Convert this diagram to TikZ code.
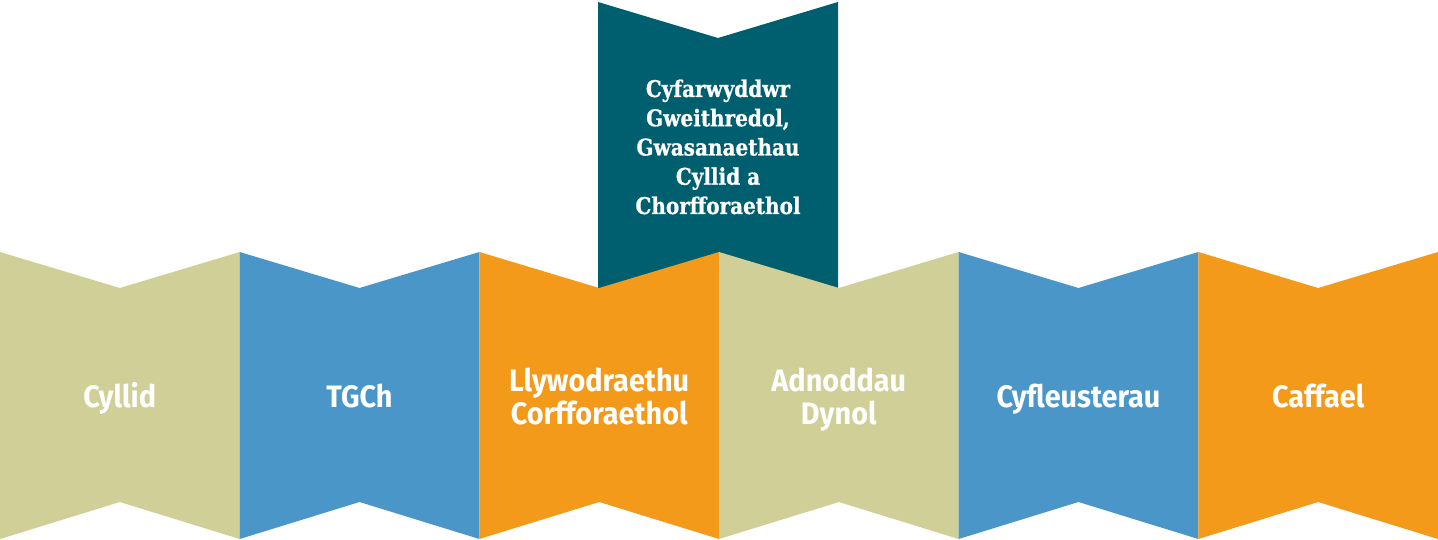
\documentclass[tikz,border=0pt]{standalone}
\usepackage{fontspec}
\setmainfont{Fira Sans}
\newfontfamily\botfont[FakeStretch=0.93]{Fira Sans}
\newfontfamily\topfont[FakeStretch=0.87,FakeBold=0.8]{DejaVu Serif}
\definecolor{khaki}{HTML}{CFCF97}
\definecolor{sky}{HTML}{4A96C8}
\definecolor{amber}{HTML}{F39A1A}
\definecolor{teal}{HTML}{005F6E}
\tikzset{
  bottext/.style={text=white, align=center, inner sep=0pt, anchor=base, font=\botfont\bfseries\fontsize{31}{33}\selectfont},
  toptext/.style={text=white, align=center, inner sep=0pt, anchor=base, font=\topfont\bfseries\fontsize{23}{29.25}\selectfont}
}
\begin{document}
\begin{tikzpicture}[x=1pt,y=-1pt]
\useasboundingbox (0,0) rectangle (1438,540);
% top banner
\fill[teal] (598,2) -- (718,38) -- (838,2) -- (838,292) -- (598,292) -- cycle;
\node[toptext] (dir) at (718,214) {Cyfarwyddwr\\Gweithredol,\\Gwasanaethau\\Cyllid a\\Chorfforaethol};
% bottom row
\foreach \i/\col in {0/khaki,1/sky,2/amber,3/khaki,4/sky,5/amber}{
  \pgfmathsetmacro{\xa}{\i*239.6667}
  \pgfmathsetmacro{\xb}{(\i+1)*239.6667}
  \pgfmathsetmacro{\xm}{(\i+0.5)*239.6667}
  \fill[\col] (\xa,252) -- (\xm,288) -- (\xb,252) -- (\xb,539) -- (\xm,502) -- (\xa,539) -- cycle;
}
\node[bottext] (cyllid) at (119.8,407) {Cyllid};
\node[bottext] (tgch) at (359.5,407) {TGCh};
\node[bottext] (llyw) at (599.2,424) {Llywodraethu\\Corfforaethol};
\node[bottext] (adno) at (838.8,424) {Adnoddau\\Dynol};
\node[bottext] (cyfl) at (1078.5,407) {Cyfleusterau};
\node[bottext] (caff) at (1318.2,407) {Caffael};
\end{tikzpicture}
\end{document}
